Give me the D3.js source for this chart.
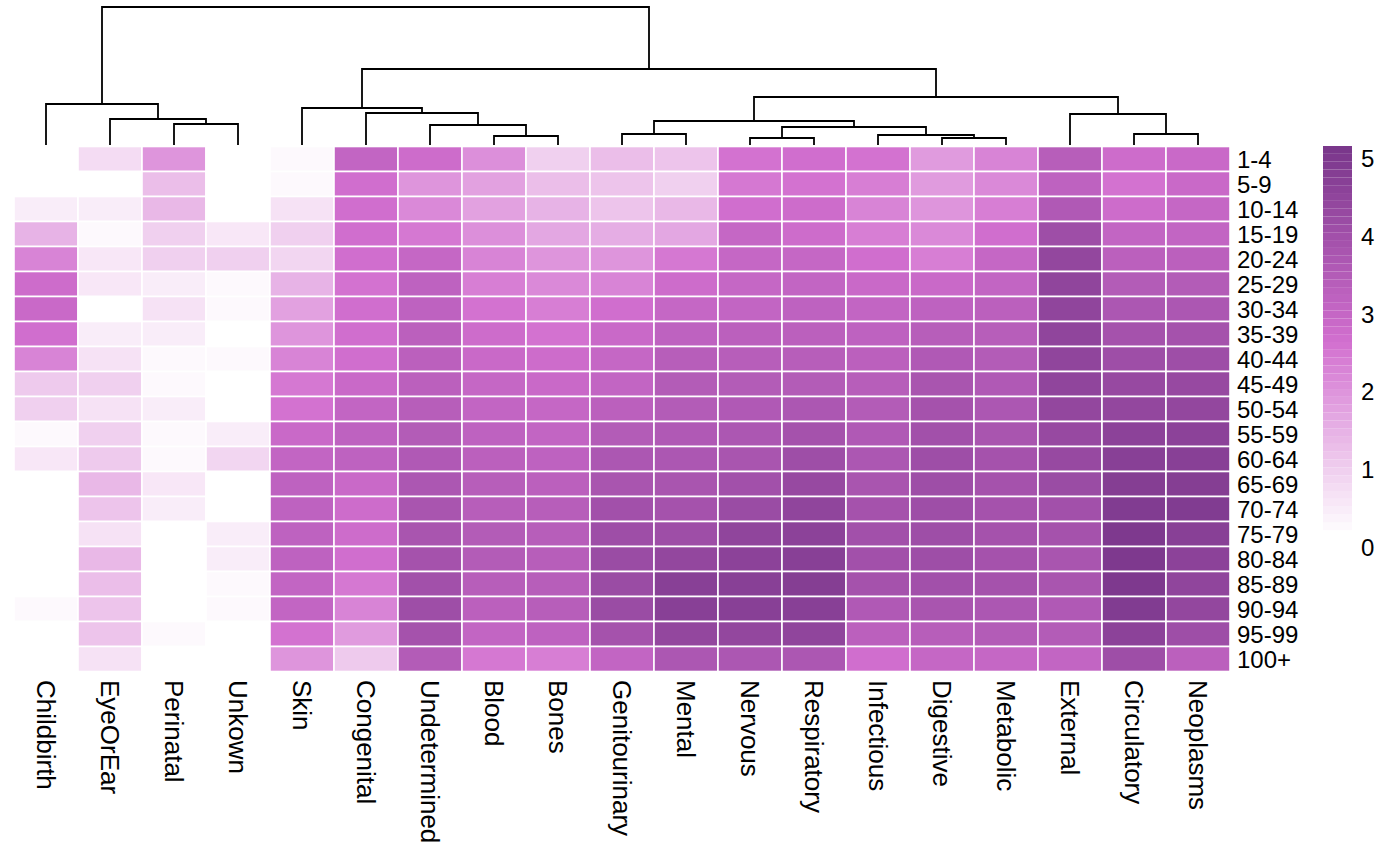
<!DOCTYPE html>
<html>
<head>
<meta charset="utf-8">
<script src="https://cdn.jsdelivr.net/npm/d3@7/dist/d3.min.js"></script>
<style>
  body { margin: 0; background: #fff; }
  text { font-family: "Liberation Sans", Arial, Helvetica, sans-serif; fill: #000; }
</style>
</head>
<body>
<script>
'use strict';

// row labels (age groups) and column labels (causes), in dendrogram order
const ageGroups = ["1-4", "5-9", "10-14", "15-19", "20-24", "25-29", "30-34", "35-39",
  "40-44", "45-49", "50-54", "55-59", "60-64", "65-69", "70-74", "75-79", "80-84",
  "85-89", "90-94", "95-99", "100+"];
const causes = ["Childbirth", "EyeOrEar", "Perinatal", "Unkown", "Skin", "Congenital",
  "Undetermined", "Blood", "Bones", "Genitourinary", "Mental", "Nervous", "Respiratory",
  "Infectious", "Digestive", "Metabolic", "External", "Circulatory", "Neoplasms"];

// one value per age group, for each cause
const childbirth    = [0, 0, 0.4, 1.4, 2.2, 2.7, 2.8, 2.6, 2.2, 1.0, 0.9, 0.2, 0.5, 0, 0, 0, 0, 0, 0.2, 0, 0];
const eyeOrEar      = [0.7, 0, 0.35, 0.15, 0.5, 0.5, 0, 0.35, 0.6, 0.85, 0.6, 0.9, 1.0, 1.3, 1.1, 0.6, 1.3, 1.2, 1.1, 1.1, 0.6];
const perinatal     = [1.9, 1.2, 1.3, 0.9, 0.9, 0.35, 0.55, 0.4, 0.2, 0.2, 0.35, 0.2, 0.2, 0.5, 0.4, 0, 0, 0, 0, 0.2, 0];
const unkown        = [0, 0, 0, 0.5, 0.85, 0.2, 0.2, 0, 0.2, 0, 0, 0.4, 0.8, 0, 0, 0.4, 0.4, 0.2, 0.2, 0, 0];
const skin          = [0.2, 0.2, 0.55, 0.9, 0.8, 1.4, 1.7, 1.9, 2.2, 2.35, 2.45, 2.75, 2.95, 3.1, 3.1, 3.1, 3.1, 3.0, 3.0, 2.5, 1.9];
const congenital    = [2.95, 2.6, 2.6, 2.6, 2.6, 2.5, 2.6, 2.6, 2.6, 2.8, 2.95, 3.1, 3.1, 2.8, 2.7, 2.7, 2.55, 2.35, 2.2, 1.8, 1.0];
const undetermined  = [2.7, 1.85, 2.05, 2.4, 2.85, 3.1, 3.1, 3.15, 3.15, 3.15, 3.3, 3.35, 3.45, 3.6, 3.65, 3.65, 3.75, 3.85, 3.95, 3.75, 3.35];
const blood         = [2.0, 1.7, 1.7, 2.0, 2.2, 2.3, 2.5, 2.7, 2.8, 2.9, 3.0, 3.1, 3.2, 3.3, 3.3, 3.4, 3.4, 3.3, 3.2, 3.0, 2.4];
const bones         = [0.9, 1.2, 1.4, 1.6, 1.9, 2.1, 2.3, 2.5, 2.7, 2.8, 2.9, 3.0, 3.1, 3.2, 3.3, 3.3, 3.3, 3.3, 3.3, 3.1, 2.3];
const genitourinary = [1.2, 1.1, 1.1, 1.5, 1.9, 2.2, 2.6, 2.8, 2.9, 3.0, 3.2, 3.4, 3.6, 3.7, 3.9, 4.0, 4.1, 4.1, 4.1, 3.8, 3.0];
const mental        = [1.1, 0.9, 1.3, 1.6, 2.4, 2.7, 2.9, 3.1, 3.3, 3.4, 3.4, 3.5, 3.6, 3.7, 3.8, 4.0, 4.3, 4.6, 4.6, 4.3, 3.6];
const nervous       = [2.5, 2.4, 2.6, 2.9, 2.9, 2.9, 3.0, 3.2, 3.3, 3.4, 3.5, 3.6, 3.7, 3.9, 4.1, 4.4, 4.5, 4.6, 4.6, 4.3, 3.6];
const respiratory   = [2.6, 2.5, 2.7, 2.7, 2.9, 3.0, 3.1, 3.2, 3.3, 3.4, 3.6, 3.8, 4.0, 4.2, 4.4, 4.5, 4.6, 4.7, 4.6, 4.4, 3.6];
const infectious    = [2.5, 2.3, 2.2, 2.3, 2.6, 2.8, 3.0, 3.1, 3.2, 3.3, 3.4, 3.5, 3.6, 3.7, 3.8, 3.9, 3.9, 3.8, 3.5, 3.2, 2.6];
const digestive     = [1.8, 1.8, 1.9, 2.1, 2.3, 2.8, 3.1, 3.3, 3.5, 3.7, 3.8, 3.9, 4.0, 4.0, 4.0, 4.0, 4.0, 3.9, 3.7, 3.3, 2.9];
const metabolic     = [2.2, 2.1, 2.3, 2.6, 2.9, 3.0, 3.2, 3.3, 3.4, 3.5, 3.6, 3.7, 3.8, 3.8, 3.8, 3.8, 3.8, 3.8, 3.6, 3.4, 2.9];
const external      = [3.3, 3.1, 3.5, 4.0, 4.3, 4.4, 4.4, 4.4, 4.4, 4.4, 4.3, 4.2, 4.2, 4.1, 3.9, 3.8, 3.7, 3.7, 3.5, 3.4, 3.0];
const circulatory   = [2.7, 2.5, 2.7, 3.0, 3.2, 3.4, 3.6, 3.8, 4.0, 4.2, 4.3, 4.5, 4.6, 4.7, 4.8, 4.9, 4.9, 4.9, 4.8, 4.5, 4.0];
const neoplasms     = [2.8, 2.8, 2.9, 3.0, 3.2, 3.4, 3.6, 3.8, 4.0, 4.2, 4.3, 4.5, 4.6, 4.7, 4.8, 4.6, 4.5, 4.4, 4.3, 4.0, 3.2];

const causeValues = [childbirth, eyeOrEar, perinatal, unkown, skin, congenital, undetermined,
  blood, bones, genitourinary, mental, nervous, respiratory, infectious, digestive,
  metabolic, external, circulatory, neoplasms];

// column clustering, hclust style: negative = leaf (1-based), positive = earlier merge
const merges = [[-12, -13], [-15, -16], [-8, -9], [-14, 2], [-10, -11], [-18, -19],
  [1, 4], [-7, 3], [-3, -4], [5, 7], [-2, 9], [-17, 6], [-6, 8], [-5, 13], [-1, 11],
  [10, 12], [14, 16], [15, 17]];
const mergeHeights = [0.7, 0.7, 0.9, 1.0, 1.1, 1.1, 1.8, 2.0, 2.1, 2.4, 2.6, 3.1, 3.2,
  3.7, 4.1, 4.8, 7.6, 13.8];

const legendTicks = [0, 1, 2, 3, 4, 5];
const legendMax = 5.05;
const nColors = 50;

const W = 1400, H = 865;
const svg = d3.select('body').append('svg')
  .attr('width', W)
  .attr('height', H);

// scales
const x = d3.scaleBand().domain(causes).range([14, 1230]);
const y = d3.scaleBand().domain(ageGroups).range([146.5, 671.5]);
const ramp = d3.scaleLinear()
  .domain([0, legendMax / 2, legendMax])
  .range(['#ffffff', '#d26fcf', '#7a378b']);
const palette = d3.range(nColors).map(i => ramp(i * legendMax / (nColors - 1)));
const color = d3.scaleQuantize().domain([0, legendMax]).range(palette);

// heatmap cells
const cells = [];
causes.forEach((c, j) => {
  ageGroups.forEach((a, i) => cells.push({ cause: c, age: a, value: causeValues[j][i] }));
});

svg.append('g').selectAll('rect')
  .data(cells)
  .enter()
  .append('rect')
  .attr('x', d => x(d.cause))
  .attr('y', d => y(d.age))
  .attr('width', x.bandwidth())
  .attr('height', y.bandwidth())
  .attr('fill', d => color(d.value))
  .attr('stroke', '#fff')
  .attr('stroke-width', 1.6);

// dendrogram
const hScale = d3.scaleLinear()
  .domain([0, d3.max(mergeHeights)])
  .range([145, 7]);
const mergeX = [];
const dendro = svg.append('g')
  .attr('fill', 'none')
  .attr('stroke', '#000')
  .attr('stroke-width', 1.8);

merges.forEach((m, k) => {
  const pos = m.map(id => id < 0
    ? { x: x(causes[-id - 1]) + x.bandwidth() / 2, h: 0 }
    : { x: mergeX[id - 1], h: mergeHeights[id - 1] });
  const hy = hScale(mergeHeights[k]);
  mergeX.push((pos[0].x + pos[1].x) / 2);
  dendro.append('path')
    .attr('d', 'M' + pos[0].x + ',' + hScale(pos[0].h) + 'V' + hy +
      'H' + pos[1].x + 'V' + hScale(pos[1].h));
});

// row labels
svg.append('g').selectAll('text')
  .data(ageGroups)
  .enter()
  .append('text')
  .attr('x', 1237)
  .attr('y', d => y(d) + y.bandwidth() / 2)
  .attr('dominant-baseline', 'central')
  .style('font-size', '24px')
  .text(d => d);

// column labels
svg.append('g').selectAll('text')
  .data(causes)
  .enter()
  .append('text')
  .attr('transform', d => 'translate(' + (x(d) + x.bandwidth() / 2) + ',680)rotate(90)')
  .attr('dominant-baseline', 'central')
  .style('font-size', '26px')
  .text(d => d);

// legend
const legendY = d3.scaleLinear().domain([0, legendMax]).range([538, 146]);
const step = legendMax / nColors;
svg.append('g').selectAll('rect')
  .data(palette)
  .enter()
  .append('rect')
  .attr('x', 1323)
  .attr('width', 29)
  .attr('y', (d, i) => legendY((i + 1) * step))
  .attr('height', legendY(0) - legendY(step))
  .attr('fill', d => d);

svg.append('g').selectAll('text')
  .data(legendTicks)
  .enter()
  .append('text')
  .attr('x', 1361)
  .attr('y', d => legendY(d) + 9)
  .attr('dominant-baseline', 'central')
  .style('font-size', '24px')
  .text(d => d);
</script>
</body>
</html>
